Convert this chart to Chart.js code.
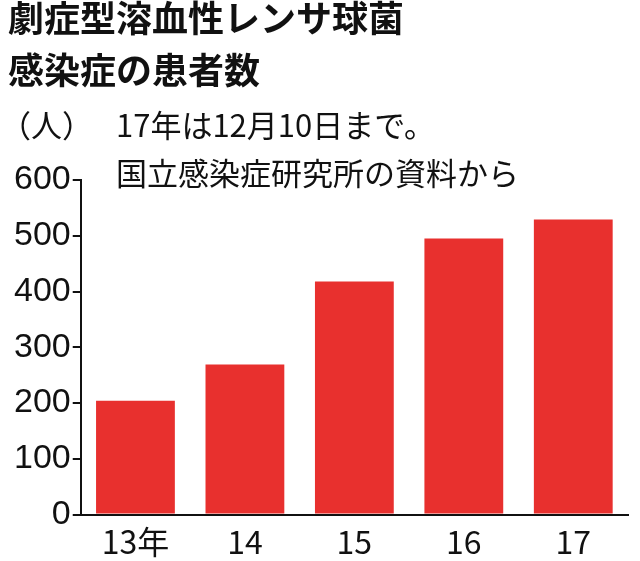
<!DOCTYPE html>
<html><head><meta charset="utf-8">
<script src="https://cdn.jsdelivr.net/npm/chart.js@4/dist/chart.umd.min.js"></script>
<style>html,body{margin:0;background:#fff}#wrap{width:640px;height:561px}</style>
</head><body><div id="wrap"><canvas id="c"></canvas></div>
<script>
const categories = ['13年', '14', '15', '16', '17'];
const patients = [204, 269, 418, 495, 529];
const yTicks = [0, 100, 200, 300, 400, 500, 600];
const titleLines = ['劇症型溶血性レンサ球菌', '感染症の患者数'];
const noteLines = ['17年は12月10日まで。', '国立感染症研究所の資料から'];

const jp = '"Noto Sans CJK JP", sans-serif';

// texts drawn on top of the canvas
const textPlugin = {
  id: 'texts',
  afterDraw(chart) {
    const ctx = chart.ctx;
    ctx.save();
    ctx.fillStyle = '#111';
    ctx.textBaseline = 'top';
    ctx.font = 'bold 36px ' + jp;
    ctx.fillText(titleLines[0], 8, 0);
    ctx.fillText(titleLines[1], 8, 52);
    ctx.font = '31px ' + jp;
    ctx.fillText('（人）', 0, 110);
    ctx.fillText(noteLines[0], 116, 110);
    ctx.fillText(noteLines[1], 116, 158);
    ctx.restore();
  }
};

new Chart(document.getElementById('c'), {
  type: 'bar',
  data: {
    labels: categories,
    datasets: [{
      data: patients,
      backgroundColor: '#e8302e',
      barPercentage: 0.72,
      categoryPercentage: 1
    }]
  },
  options: {
    responsive: true,
    maintainAspectRatio: false,
    animation: false,
    layout: { padding: { top: 180, right: 12, left: 12, bottom: 0 } },
    plugins: { legend: { display: false }, tooltip: { enabled: false } },
    scales: {
      x: {
        grid: { display: false },
        border: { color: '#111', width: 2 },
        ticks: { color: '#111', font: { size: 32, family: jp }, padding: 0 }
      },
      y: {
        min: 0, max: 600,
        afterBuildTicks: s => { s.ticks = yTicks.map(v => ({ value: v })); },
        grid: { drawOnChartArea: false, tickLength: 8, color: '#111', lineWidth: 2 },
        border: { color: '#111', width: 2 },
        ticks: { color: '#111', font: { size: 34, family: 'Liberation Sans' }, padding: 2 }
      }
    }
  },
  plugins: [textPlugin]
});
</script></body></html>
